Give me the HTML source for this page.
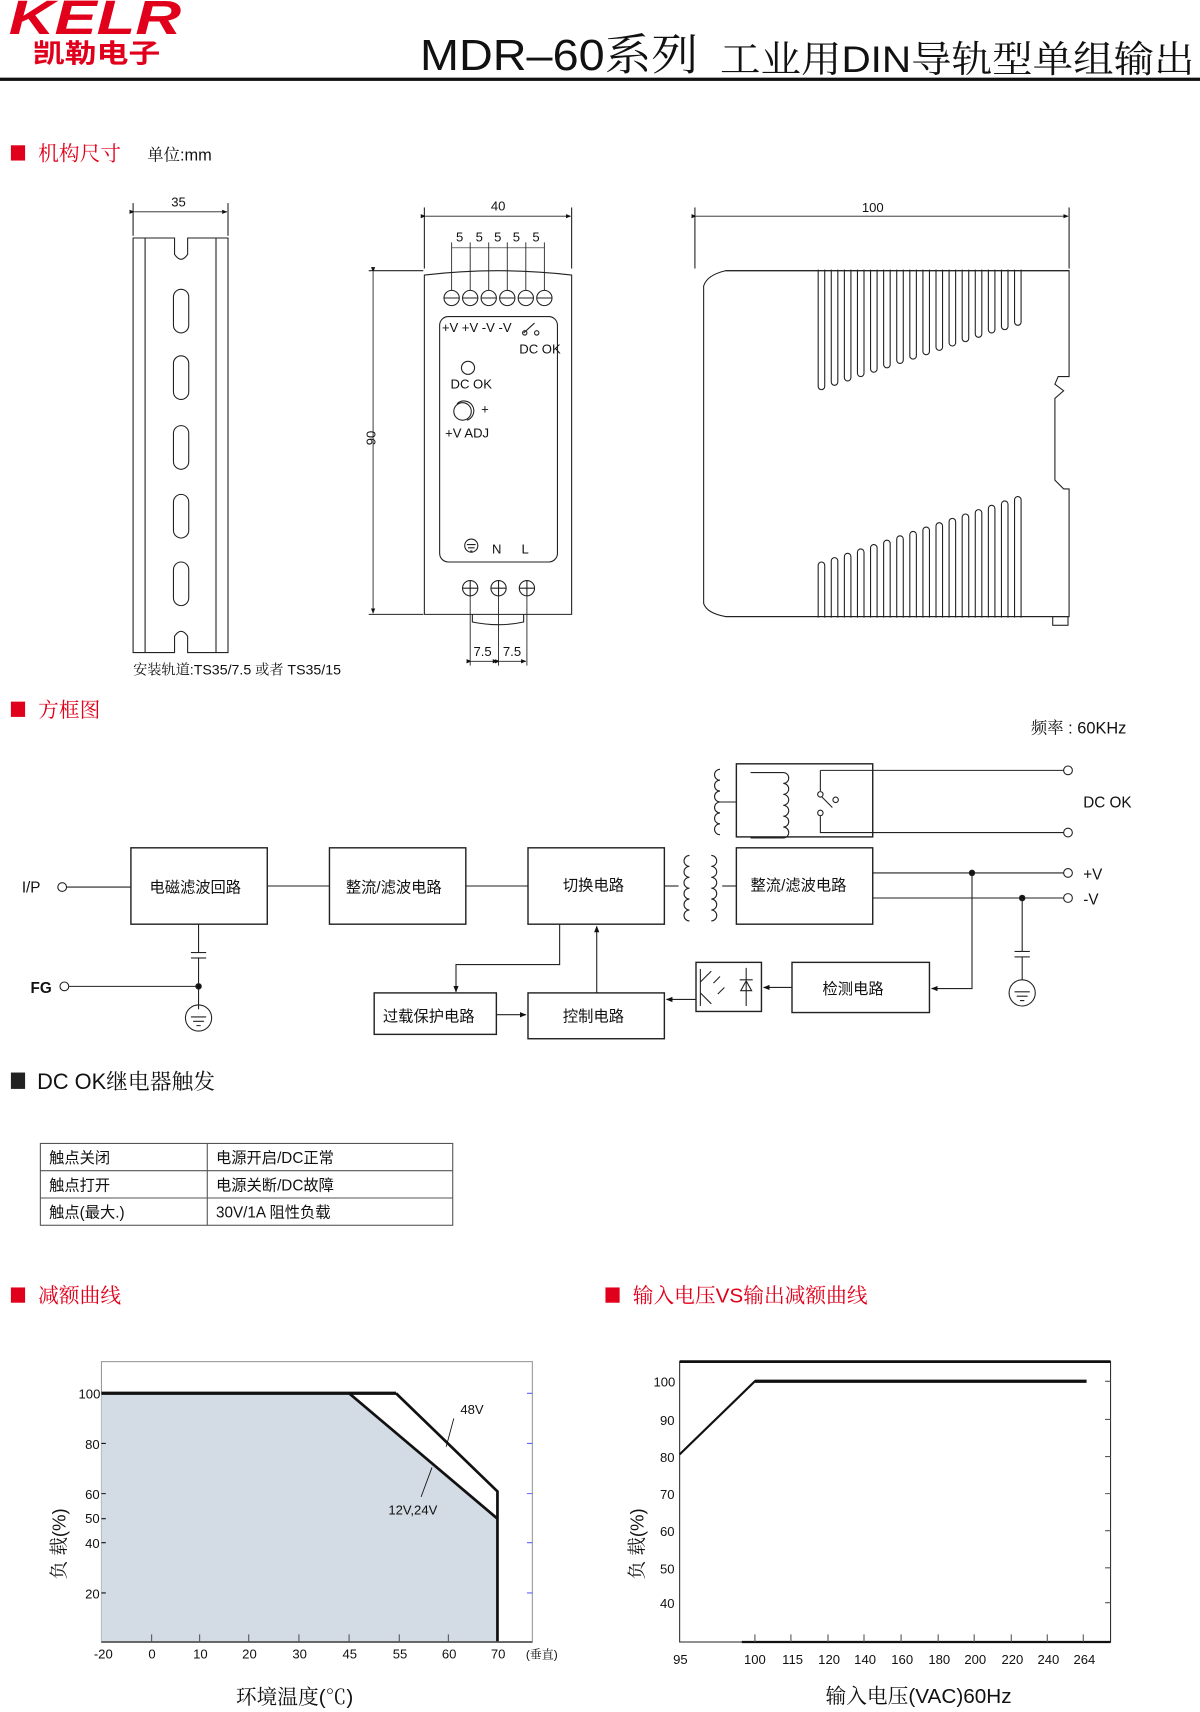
<!DOCTYPE html>
<html><head><meta charset="utf-8"><style>
html,body{margin:0;padding:0;background:#fff}
svg{display:block}
text{font-family:"Liberation Sans Narrow","Liberation Sans","Noto Sans CJK SC",sans-serif;fill:#111}
.cj{font-family:"Liberation Sans Narrow","Liberation Sans","Noto Serif CJK SC","Noto Sans CJK SC",serif}
.red{fill:#e0001b}
</style></head><body>
<svg width="1200" height="1712" viewBox="0 0 1100 1569" xmlns="http://www.w3.org/2000/svg">
<defs>
<marker id="ar" viewBox="0 0 10 10" refX="9" refY="5" markerWidth="6" markerHeight="6" orient="auto"><path d="M0,1 L10,5 L0,9 z" fill="#111"/></marker>
</defs>
<!-- header -->
<text x="8" y="31" font-size="44" font-weight="bold" font-style="italic" style="fill:#e0001b" font-family="Liberation Sans" textLength="158" lengthAdjust="spacingAndGlyphs">KELR</text>
<text x="30" y="57" font-size="24" font-weight="bold" style="fill:#e0001b;font-family:'Noto Sans CJK SC',sans-serif" textLength="117" lengthAdjust="spacingAndGlyphs">凯勒电子</text>
<text x="385" y="64" font-size="40" class="cj" textLength="255" lengthAdjust="spacingAndGlyphs">MDR–60系列</text>
<text x="660" y="66" font-size="34" class="cj" textLength="435" lengthAdjust="spacingAndGlyphs">工业用DIN导轨型单组输出</text>
<rect x="0" y="71" width="1100" height="3" fill="#111"/>

<!-- section 1 -->
<rect x="10" y="133" width="13" height="14" fill="#e0001b"/>
<text x="35" y="147" font-size="19" class="cj" style="fill:#e0001b">机构尺寸</text>
<text x="135" y="147" font-size="15" class="cj">单位:mm</text>

<g fill="none" stroke="#222" stroke-width="1">
<!-- DIN rail -->
<path d="M122,218 L160,218 L160,233 Q166,242 172,233 L172,218 L209,218 L209,598 L172,598 L172,583 Q166,574 160,583 L160,598 L122,598 Z"/>
<line x1="133" y1="218" x2="133" y2="598"/><line x1="198" y1="218" x2="198" y2="598"/>
<rect x="159" y="265" width="14" height="40" rx="7"/>
<rect x="159" y="326" width="14" height="40" rx="7"/>
<rect x="159" y="390" width="14" height="40" rx="7"/>
<rect x="159" y="453" width="14" height="40" rx="7"/>
<rect x="159" y="515" width="14" height="40" rx="7"/>
<line x1="122" y1="186" x2="122" y2="216"/><line x1="209" y1="186" x2="209" y2="216"/>
<line x1="123" y1="194" x2="208" y2="194" marker-start="url(#ar)" marker-end="url(#ar)" stroke-width="0.8"/>
<!-- front view -->
<path d="M389,563 L389,252 Q457,244 524,252 L524,563 Z"/>
<rect x="403" y="290" width="108" height="225" rx="8"/>
<line x1="389" y1="190" x2="389" y2="246"/><line x1="524" y1="190" x2="524" y2="246"/>
<line x1="390" y1="198" x2="523" y2="198" marker-start="url(#ar)" marker-end="url(#ar)" stroke-width="0.8"/>
<line x1="338" y1="248" x2="388" y2="248"/><line x1="338" y1="563" x2="388" y2="563"/>
<line x1="342" y1="249" x2="342" y2="562" marker-start="url(#ar)" marker-end="url(#ar)" stroke-width="0.8"/>
<g>
<circle cx="414" cy="273" r="7"/><circle cx="431" cy="273" r="7"/><circle cx="448" cy="273" r="7"/><circle cx="465" cy="273" r="7"/><circle cx="482" cy="273" r="7"/><circle cx="499" cy="273" r="7"/>
<path d="M407,273h14M424,273h14M441,273h14M458,273h14M475,273h14M492,273h14"/>
<path d="M414,222v44M431,222v44M448,222v44M465,222v44M482,222v44M499,222v44" stroke-width="0.8"/>
<path d="M414,227h85" stroke-width="0.6"/>
</g>
<circle cx="429" cy="337" r="6"/>
<path d="M419,370 A9,9 0 1 1 428,385" />
<circle cx="424" cy="377" r="8"/>
<path d="M480,305 L490,296" /><circle cx="481" cy="305" r="2"/><circle cx="492" cy="305" r="2"/>
<circle cx="432" cy="500" r="6"/><path d="M428,499h8M429,502h6M431,505h2"/>
<circle cx="431" cy="539" r="7"/><circle cx="457" cy="539" r="7"/><circle cx="483" cy="539" r="7"/>
<path d="M424,539h14M450,539h14M476,539h14M431,532v14M457,532v14M483,532v14"/>
<path d="M433,563 L433,570 Q457,575 480,570 L480,563"/>
<path d="M431,546v64M457,546v64M483,546v64" stroke-width="0.8"/>
<line x1="432" y1="606" x2="456" y2="606" marker-start="url(#ar)" marker-end="url(#ar)" stroke-width="0.8"/>
<line x1="458" y1="606" x2="482" y2="606" marker-start="url(#ar)" marker-end="url(#ar)" stroke-width="0.8"/>
<!-- side view -->
<path d="M645,262 Q648,252 665,248 L980,248 L980,345 L970,345 L967,352 L975,358 L967,365 L967,440 L975,448 L980,448 L980,565 L665,565 Q648,562 645,553 Z"/>
<line x1="637" y1="190" x2="637" y2="246"/><line x1="980" y1="190" x2="980" y2="246"/>
<line x1="638" y1="198" x2="979" y2="198" marker-start="url(#ar)" marker-end="url(#ar)" stroke-width="0.8"/>
<rect x="965" y="565" width="14" height="8"/>
<g>
<rect x="750" y="240" width="6" height="117" rx="3"/><rect x="762" y="240" width="6" height="113" rx="3"/><rect x="774" y="240" width="6" height="109" rx="3"/><rect x="786" y="240" width="6" height="105" rx="3"/><rect x="798" y="240" width="6" height="101" rx="3"/><rect x="810" y="240" width="6" height="97" rx="3"/><rect x="822" y="240" width="6" height="93" rx="3"/><rect x="834" y="240" width="6" height="89" rx="3"/><rect x="846" y="240" width="6" height="85" rx="3"/><rect x="858" y="240" width="6" height="81" rx="3"/><rect x="870" y="240" width="6" height="77" rx="3"/><rect x="882" y="240" width="6" height="73" rx="3"/><rect x="894" y="240" width="6" height="69" rx="3"/><rect x="906" y="240" width="6" height="65" rx="3"/><rect x="918" y="240" width="6" height="62" rx="3"/><rect x="930" y="240" width="6" height="58" rx="3"/>
<rect x="750" y="515" width="6" height="58" rx="3"/><rect x="762" y="511" width="6" height="62" rx="3"/><rect x="774" y="507" width="6" height="66" rx="3"/><rect x="786" y="503" width="6" height="70" rx="3"/><rect x="798" y="499" width="6" height="74" rx="3"/><rect x="810" y="495" width="6" height="78" rx="3"/><rect x="822" y="491" width="6" height="82" rx="3"/><rect x="834" y="487" width="6" height="86" rx="3"/><rect x="846" y="483" width="6" height="90" rx="3"/><rect x="858" y="479" width="6" height="94" rx="3"/><rect x="870" y="475" width="6" height="98" rx="3"/><rect x="882" y="471" width="6" height="102" rx="3"/><rect x="894" y="467" width="6" height="106" rx="3"/><rect x="906" y="463" width="6" height="110" rx="3"/><rect x="918" y="459" width="6" height="114" rx="3"/><rect x="930" y="455" width="6" height="118" rx="3"/>
</g>
</g>
<rect x="744" y="236" width="198" height="11" fill="#fff"/><rect x="744" y="566" width="198" height="10" fill="#fff"/>
<line x1="665" y1="248" x2="980" y2="248" stroke="#222"/><line x1="665" y1="565" x2="980" y2="565" stroke="#222"/>
<g font-size="12">
<text x="157" y="189">35</text><text x="450" y="193">40</text><text x="790" y="194">100</text>
<text x="418" y="221">5</text><text x="436" y="221">5</text><text x="453" y="221">5</text><text x="470" y="221">5</text><text x="488" y="221">5</text>
<text x="338" y="414" transform="rotate(-90 338 408)">90</text>
<text x="405" y="304">+V +V -V -V</text>
<text x="476" y="324">DC OK</text>
<text x="413" y="356">DC OK</text>
<text x="441" y="379">+</text>
<text x="408" y="401">+V ADJ</text>
<text x="451" y="507">N</text><text x="478" y="507">L</text>
<text x="434" y="601">7.5</text><text x="461" y="601">7.5</text>
</g>
<text x="122" y="618" font-size="13" class="cj">安装轨道:TS35/7.5 或者 TS35/15</text>

<!-- block diagram -->
<rect x="10" y="643" width="13" height="14" fill="#e0001b"/>
<text x="35" y="657" font-size="19" class="cj" style="fill:#e0001b">方框图</text>
<text x="945" y="672" font-size="15" class="cj">频率 : 60KHz</text>
<g fill="none" stroke="#222" stroke-width="1.3">
<rect x="120" y="777" width="125" height="70"/>
<rect x="302" y="777" width="125" height="70"/>
<rect x="484" y="777" width="125" height="70"/>
<rect x="675" y="777" width="125" height="70"/>
<rect x="675" y="700" width="125" height="67"/>
<rect x="343" y="910" width="112" height="38"/>
<rect x="484" y="910" width="125" height="42"/>
<rect x="638" y="882" width="60" height="45"/>
<rect x="726" y="882" width="126" height="46"/>
</g>
<g fill="none" stroke="#222" stroke-width="1">
<circle cx="57" cy="813" r="4"/><line x1="61" y1="813" x2="120" y2="813"/>
<line x1="245" y1="812" x2="302" y2="812"/><line x1="427" y1="812" x2="484" y2="812"/>
<line x1="182" y1="847" x2="182" y2="873"/><line x1="175" y1="873" x2="189" y2="873"/><line x1="175" y1="878" x2="189" y2="878"/><line x1="182" y1="878" x2="182" y2="925"/>
<circle cx="59" cy="904" r="4"/><line x1="63" y1="904" x2="182" y2="904"/>
<circle cx="182" cy="904" r="2.5" fill="#111"/>
<ellipse cx="182" cy="933" rx="12" ry="12"/><path d="M175,932h14M177,936h10M180,940h4"/>
<!-- transformer -->
<line x1="609" y1="812" x2="622" y2="812"/>
<path d="M632,784 a5,5 0 0 0 0,10 a5,5 0 0 0 0,10 a5,5 0 0 0 0,10 a5,5 0 0 0 0,10 a5,5 0 0 0 0,10 a5,5 0 0 0 0,10"/>
<path d="M652,784 a5,5 0 0 1 0,10 a5,5 0 0 1 0,10 a5,5 0 0 1 0,10 a5,5 0 0 1 0,10 a5,5 0 0 1 0,10 a5,5 0 0 1 0,10"/>
<line x1="662" y1="812" x2="675" y2="812"/>
<!-- relay -->
<path d="M660,705 a5,5 0 0 0 0,10 a5,5 0 0 0 0,10 a5,5 0 0 0 0,10 a5,5 0 0 0 0,10 a5,5 0 0 0 0,10 a5,5 0 0 0 0,10"/>
<line x1="660" y1="735" x2="675" y2="735"/>
<path d="M688,708 h30 a5,5 0 0 1 0,10 a5,5 0 0 1 0,10 a5,5 0 0 1 0,10 a5,5 0 0 1 0,10 a5,5 0 0 1 0,10 a5,5 0 0 1 0,10 h-30"/>
<path d="M752,706 L752,725"/><circle cx="752" cy="728" r="2.5"/><line x1="753" y1="730" x2="763" y2="740"/><circle cx="766" cy="733" r="2.5"/><circle cx="752" cy="745" r="2.5"/><path d="M752,748 L752,763 L975,763"/>
<line x1="752" y1="706" x2="975" y2="706"/>
<circle cx="979" cy="706" r="4"/><circle cx="979" cy="763" r="4"/>
<!-- outputs -->
<line x1="800" y1="800" x2="975" y2="800"/><circle cx="979" cy="800" r="4"/>
<line x1="800" y1="823" x2="975" y2="823"/><circle cx="979" cy="823" r="4"/>
<circle cx="891" cy="800" r="2.5" fill="#111"/><circle cx="937" cy="823" r="2.5" fill="#111"/>
<polyline points="891,800 891,906 854,906" marker-end="url(#ar)"/>
<line x1="937" y1="823" x2="937" y2="872"/><line x1="930" y1="872" x2="944" y2="872"/><line x1="930" y1="877" x2="944" y2="877"/><line x1="937" y1="877" x2="937" y2="898"/>
<ellipse cx="937" cy="910" rx="12" ry="12"/><path d="M930,909h14M932,913h10M935,917h4"/>
<!-- internal -->
<polyline points="513,847 513,884 418,884 418,909" marker-end="url(#ar)"/>
<line x1="547" y1="910" x2="547" y2="849" marker-end="url(#ar)"/>
<line x1="455" y1="930" x2="482" y2="930" marker-end="url(#ar)"/>
<line x1="638" y1="916" x2="611" y2="916" marker-end="url(#ar)"/>
<line x1="726" y1="905" x2="700" y2="905" marker-end="url(#ar)"/>
<!-- opto -->
<line x1="642" y1="888" x2="642" y2="922"/><path d="M642,900 L652,890 M642,910 L652,920"/>
<path d="M660,895 l-6,6 M664,905 l-6,6"/>
<path d="M684,887 v35 M678,898 h12 M679,908 l5,-9 l5,9 z"/>
</g>
<g font-size="14" class="cj">
<text x="137" y="818">电磁滤波回路</text>
<text x="317" y="818">整流/滤波电路</text>
<text x="516" y="816">切换电路</text>
<text x="688" y="816">整流/滤波电路</text>
<text x="351" y="936">过载保护电路</text>
<text x="516" y="936">控制电路</text>
<text x="754" y="911">检测电路</text>
</g>
<g font-size="14">
<text x="20" y="818">I/P</text><text x="28" y="910" font-weight="bold">FG</text>
<text x="993" y="740">DC OK</text><text x="993" y="806">+V</text><text x="993" y="829">-V</text>
</g>

<!-- DC OK relay -->
<rect x="10" y="983" width="13" height="15" fill="#222"/>
<text x="34" y="998" font-size="20" class="cj">DC OK继电器触发</text>
<g fill="none" stroke="#555" stroke-width="1">
<rect x="37" y="1048" width="378" height="75"/>
<line x1="37" y1="1073" x2="415" y2="1073"/><line x1="37" y1="1098" x2="415" y2="1098"/>
<line x1="190" y1="1048" x2="190" y2="1123"/>
</g>
<g font-size="14" class="cj">
<text x="45" y="1066">触点关闭</text><text x="198" y="1066">电源开启/DC正常</text>
<text x="45" y="1091">触点打开</text><text x="198" y="1091">电源关断/DC故障</text>
<text x="45" y="1116">触点(最大.)</text><text x="198" y="1116">30V/1A 阻性负载</text>
</g>

<!-- derating -->
<rect x="10" y="1180" width="13" height="14" fill="#e0001b"/>
<text x="35" y="1194" font-size="19" class="cj" style="fill:#e0001b">减额曲线</text>
<rect x="555" y="1180" width="13" height="14" fill="#e0001b"/>
<text x="580" y="1194" font-size="19" class="cj" style="fill:#e0001b">输入电压VS输出减额曲线</text>

<rect x="93" y="1248" width="395" height="257" fill="none" stroke="#999"/>
<polygon points="93,1277 320,1277 456,1392 456,1505 93,1505" fill="#d3dce4"/>
<g fill="none" stroke="#111">
<line x1="93" y1="1277" x2="363" y2="1277" stroke-width="3"/>
<polyline points="363,1277 456,1367 456,1505" stroke-width="2.5"/>
<line x1="320" y1="1277" x2="456" y2="1392" stroke-width="2.5"/>
<line x1="93" y1="1505" x2="488" y2="1505" stroke-width="1.5" stroke="#555"/>
<line x1="416" y1="1300" x2="409" y2="1326" stroke-width="0.8"/>
<line x1="386" y1="1372" x2="396" y2="1345" stroke-width="0.8"/>
<path d="M139,1498v7M183,1498v7M228,1498v7M274,1498v7M320,1498v7M366,1498v7M411,1498v7" stroke="#555"/>
<path d="M93,1277h4M93,1323h4M93,1369h4M93,1392h4M93,1414h4M93,1460h4"/>
<path d="M483,1277h5M483,1323h5M483,1369h5M483,1414h5M483,1460h5" stroke="#66f"/>
</g>
<g font-size="12">
<text x="72" y="1282">100</text><text x="78" y="1328">80</text><text x="78" y="1374">60</text><text x="78" y="1396">50</text><text x="78" y="1419">40</text><text x="78" y="1465">20</text>
<text x="86" y="1520">-20</text><text x="136" y="1520">0</text><text x="177" y="1520">10</text><text x="222" y="1520">20</text><text x="268" y="1520">30</text><text x="314" y="1520">45</text><text x="360" y="1520">55</text><text x="405" y="1520">60</text><text x="450" y="1520">70</text>
<text x="422" y="1296">48V</text><text x="356" y="1388">12V,24V</text>
</g>
<text x="482" y="1520" font-size="11" class="cj">(垂直)</text>
<text x="60" y="1415" font-size="17" class="cj" text-anchor="middle" transform="rotate(-90 60 1415)">负 载(%)</text>
<text x="270" y="1562" font-size="19" class="cj" text-anchor="middle">环境温度(℃)</text>

<g fill="none" stroke="#111">
<rect x="623" y="1248" width="395" height="257" stroke="#333"/>
<line x1="623" y1="1248" x2="1018" y2="1248" stroke-width="2.5"/>
<line x1="680" y1="1505" x2="1018" y2="1505" stroke-width="2"/>
<polyline points="623,1333 692,1266 996,1266" stroke-width="2"/>
<line x1="692" y1="1266" x2="996" y2="1266" stroke-width="3"/>
<path d="M692,1498v7M725,1498v7M759,1498v7M792,1498v7M826,1498v7M860,1498v7M893,1498v7M927,1498v7M960,1498v7M993,1498v7" stroke="#555"/>
<path d="M1013,1266h5M1013,1301h5M1013,1335h5M1013,1369h5M1013,1403h5M1013,1437h5M1013,1469h5" stroke="#555"/>
</g>
<g font-size="12">
<text x="599" y="1271">100</text><text x="605" y="1306">90</text><text x="605" y="1340">80</text><text x="605" y="1374">70</text><text x="605" y="1408">60</text><text x="605" y="1442">50</text><text x="605" y="1474">40</text>
<text x="617" y="1525">95</text><text x="682" y="1525">100</text><text x="717" y="1525">115</text><text x="750" y="1525">120</text><text x="783" y="1525">140</text><text x="817" y="1525">160</text><text x="851" y="1525">180</text><text x="884" y="1525">200</text><text x="918" y="1525">220</text><text x="951" y="1525">240</text><text x="984" y="1525">264</text>
</g>
<text x="590" y="1415" font-size="17" class="cj" text-anchor="middle" transform="rotate(-90 590 1415)">负 载(%)</text>
<text x="842" y="1561" font-size="19" class="cj" text-anchor="middle">输入电压(VAC)60Hz</text>
</svg>
</body></html>
